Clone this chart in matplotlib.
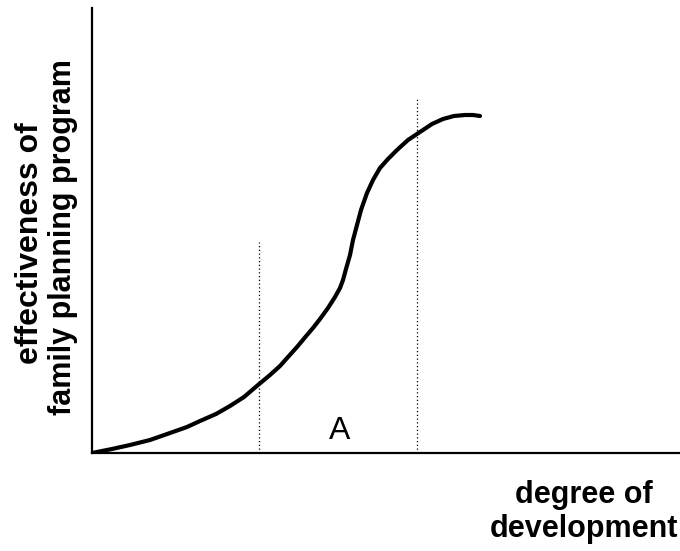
import matplotlib
matplotlib.use("Agg")
import matplotlib.pyplot as plt

# Curve (arbitrary units: development, effectiveness)
development = [0, 20, 38, 58, 78, 95, 108, 124, 138, 152, 166, 178, 188, 196, 205,
               215, 221, 228, 236, 243, 248, 251, 254, 258, 261, 265, 269, 275,
               281, 288, 296, 305, 316, 328, 340, 351, 362, 373, 381, 388]
effectiveness = [0, 4, 8, 13, 20, 26, 32, 39, 47, 56, 68, 78, 87, 96, 106,
                 118, 125, 134, 145, 156, 165, 173, 184, 198, 213, 228, 243, 260,
                 273, 285, 294, 303, 313, 321, 329, 334, 337, 338, 338, 337]

# dotted guide lines: (x position, top)
guide_x = [167, 325]
guide_top = [211, 356]

label_A = "A"
label_A_pos = (248, 14)

fig = plt.figure(figsize=(6.8, 5.51), dpi=100)
ax = fig.add_axes([92/680, (551-453)/551, (680-92)/680, (453-8)/551])
ax.set_xlim(0, 588)
ax.set_ylim(0, 445)

ax.plot(development, effectiveness, color="black", lw=3.0,
        solid_capstyle="round", solid_joinstyle="round")

for gx, gt in zip(guide_x, guide_top):
    ax.plot([gx, gx], [0, gt], color="black", lw=0.9, ls=(0, (1, 2)))

ax.text(label_A_pos[0], label_A_pos[1], label_A, fontsize=23,
        family="Liberation Sans", ha="center", va="baseline")

for s in ["top", "right"]:
    ax.spines[s].set_visible(False)
for s in ["left", "bottom"]:
    ax.spines[s].set_linewidth(1.6)
ax.set_xticks([])
ax.set_yticks([])

fig.text(30/680, 1 - 243/551, "effectiveness of", rotation=90, fontsize=23,
         fontweight="bold", family="Liberation Sans", ha="center", va="center")
fig.text(63/680, 1 - 237/551, "family planning program", rotation=90, fontsize=22,
         fontweight="bold", family="Liberation Sans", ha="center", va="center")

fig.text(584/680, 1 - 512/551, "degree of\ndevelopment", fontsize=22,
         fontweight="bold", family="Liberation Sans", ha="center", va="center",
         linespacing=1.2)

fig.savefig("out.png", dpi=100, facecolor="white")
